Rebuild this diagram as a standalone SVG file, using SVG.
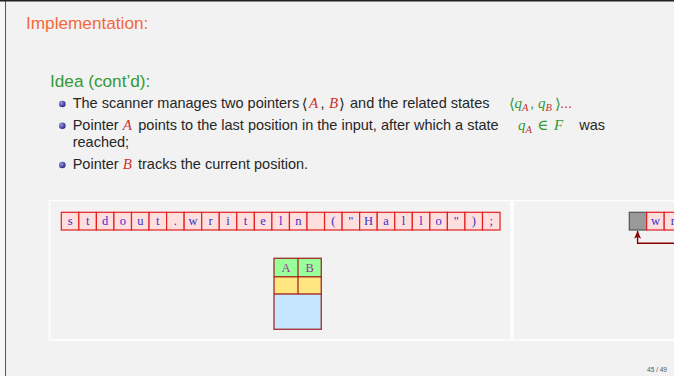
<svg xmlns="http://www.w3.org/2000/svg" width="674" height="376" viewBox="0 0 674 376">
<style>
.t{font-family:"Liberation Sans",Arial,sans-serif;font-size:14.5px;fill:#262626}
.m{font-family:"Liberation Serif","DejaVu Serif",serif;font-style:italic;font-size:15px}
.br{font-family:"DejaVu Serif","Liberation Serif",serif;font-size:15px}
.sub{font-family:"Liberation Serif",serif;font-style:italic;font-size:10.5px;fill:#cc3333}
.red{fill:#cc3333}
.grn{fill:#339933}
.cell{fill:#ffdede;stroke:#e02020;stroke-width:1.2}
.ch{font-family:"Liberation Serif",serif;font-size:12.5px;fill:#3333cc;text-anchor:middle}
.panel{fill:none;stroke:#ffffff;stroke-width:1.5}
.tb{stroke:#a01818;stroke-width:1.4;stroke-opacity:0.85}
</style>
<defs>
<radialGradient id="ball" cx="0.35" cy="0.35" r="0.7">
<stop offset="0" stop-color="#9a9ae8"/>
<stop offset="1" stop-color="#202080"/>
</radialGradient>
<marker id="ah" viewBox="0 0 8 10" refX="8" refY="5" markerWidth="8" markerHeight="10" markerUnits="userSpaceOnUse" orient="auto">
<path d="M0,1.5 L8,5 L0,8.5 L2,5 Z" fill="#8b0000"/>
</marker>
</defs>
<rect width="674" height="376" fill="#f2f2f2"/>
<rect x="0" y="0" width="5" height="376" fill="#f7f7f7"/>
<line x1="5.5" y1="0" x2="5.5" y2="376" stroke="#555" stroke-width="1"/>
<rect x="0" y="0" width="674" height="1.5" fill="#222"/>

<g id="title">
<text x="26" y="29" font-family="Liberation Sans,Arial,sans-serif" font-size="17.2" fill="#f4693a">Implementation:</text>
</g>

<g id="idea">
<text x="50" y="86.7" font-family="Liberation Sans,Arial,sans-serif" font-size="17.2" fill="#339933">Idea (cont’d):</text>
<circle cx="62.3" cy="104" r="3.3" fill="url(#ball)"/>
<circle cx="62.3" cy="125.8" r="3.3" fill="url(#ball)"/>
<circle cx="62.3" cy="165" r="3.3" fill="url(#ball)"/>
<text class="t" x="72.7" y="108.3">The scanner manages two pointers</text>
<text class="br" x="301.7" y="108.8" fill="#262626">⟨</text>
<text class="m red" x="309" y="108.3">A</text>
<text class="t" x="320.5" y="108.3">,</text>
<text class="m red" x="329" y="108.3">B</text>
<text class="br" x="339" y="108.8" fill="#262626">⟩</text>
<text class="t" x="350" y="108.3">and the related states</text>
<text class="br grn" x="509" y="108.8">⟨</text>
<text class="m grn" x="514.5" y="108.3">q</text>
<text class="sub" x="522" y="111">A</text>
<text class="t grn" x="530" y="108.3">,</text>
<text class="m grn" x="538" y="108.3">q</text>
<text class="sub" x="545.5" y="111">B</text>
<text class="br grn" x="555" y="108.8">⟩</text>
<text class="t red" x="560" y="108.3">...</text>

<text class="t" x="72.7" y="130">Pointer</text>
<text class="m red" x="122.7" y="130">A</text>
<text class="t" x="138.3" y="130">points to the last position in the input, after which a state</text>
<text class="m grn" x="518" y="130">q</text>
<text class="sub" x="525.5" y="132.7">A</text>
<text class="m grn" x="537" y="130" font-style="normal">∈</text>
<text class="m grn" x="554" y="130">F</text>
<text class="t" x="579.3" y="130">was</text>
<text class="t" x="72.7" y="147.3">reached;</text>

<text class="t" x="72.7" y="169.3">Pointer</text>
<text class="m red" x="122.7" y="169.3">B</text>
<text class="t" x="138" y="169.3">tracks the current position.</text>
</g>

<g id="panels">
<rect class="panel" x="49.5" y="200.5" width="461.5" height="139.5"/>
<rect class="panel" x="513" y="200.5" width="170" height="139.5"/>
</g>

<g id="tape">
<rect class="cell" x="61.3" y="212.3" width="17.55" height="17.7"/>
<rect class="cell" x="78.85" y="212.3" width="17.55" height="17.7"/>
<rect class="cell" x="96.4" y="212.3" width="17.55" height="17.7"/>
<rect class="cell" x="113.95" y="212.3" width="17.55" height="17.7"/>
<rect class="cell" x="131.5" y="212.3" width="17.55" height="17.7"/>
<rect class="cell" x="149.05" y="212.3" width="17.55" height="17.7"/>
<rect class="cell" x="166.6" y="212.3" width="17.55" height="17.7"/>
<rect class="cell" x="184.15" y="212.3" width="17.55" height="17.7"/>
<rect class="cell" x="201.7" y="212.3" width="17.55" height="17.7"/>
<rect class="cell" x="219.25" y="212.3" width="17.55" height="17.7"/>
<rect class="cell" x="236.8" y="212.3" width="17.55" height="17.7"/>
<rect class="cell" x="254.35" y="212.3" width="17.55" height="17.7"/>
<rect class="cell" x="271.9" y="212.3" width="17.55" height="17.7"/>
<rect class="cell" x="289.45" y="212.3" width="17.55" height="17.7"/>
<rect class="cell" x="307" y="212.3" width="17.55" height="17.7"/>
<rect class="cell" x="324.55" y="212.3" width="17.55" height="17.7"/>
<rect class="cell" x="342.1" y="212.3" width="17.55" height="17.7"/>
<rect class="cell" x="359.65" y="212.3" width="17.55" height="17.7"/>
<rect class="cell" x="377.2" y="212.3" width="17.55" height="17.7"/>
<rect class="cell" x="394.75" y="212.3" width="17.55" height="17.7"/>
<rect class="cell" x="412.3" y="212.3" width="17.55" height="17.7"/>
<rect class="cell" x="429.85" y="212.3" width="17.55" height="17.7"/>
<rect class="cell" x="447.4" y="212.3" width="17.55" height="17.7"/>
<rect class="cell" x="464.95" y="212.3" width="17.55" height="17.7"/>
<rect class="cell" x="482.5" y="212.3" width="17.55" height="17.7"/>
<text class="ch" x="70.1" y="225.2">s</text>
<text class="ch" x="87.65" y="225.2">t</text>
<text class="ch" x="105.2" y="225.2">d</text>
<text class="ch" x="122.75" y="225.2">o</text>
<text class="ch" x="140.3" y="225.2">u</text>
<text class="ch" x="157.85" y="225.2">t</text>
<text class="ch" x="175.4" y="225.2">.</text>
<text class="ch" x="192.95" y="225.2">w</text>
<text class="ch" x="210.5" y="225.2">r</text>
<text class="ch" x="228.05" y="225.2">i</text>
<text class="ch" x="245.6" y="225.2">t</text>
<text class="ch" x="263.15" y="225.2">e</text>
<text class="ch" x="280.7" y="225.2">l</text>
<text class="ch" x="298.25" y="225.2">n</text>
<text class="ch" x="333.35" y="225.2">(</text>
<text class="ch" x="350.9" y="225.2">"</text>
<text class="ch" x="368.45" y="225.2">H</text>
<text class="ch" x="386" y="225.2">a</text>
<text class="ch" x="403.55" y="225.2">l</text>
<text class="ch" x="421.1" y="225.2">l</text>
<text class="ch" x="438.65" y="225.2">o</text>
<text class="ch" x="456.2" y="225.2">"</text>
<text class="ch" x="473.75" y="225.2">)</text>
<text class="ch" x="491.3" y="225.2">;</text>
</g>

<g id="pointers">
<rect x="274" y="258.3" width="47.3" height="18.4" fill="#99ff99"/>
<rect x="274" y="276.7" width="47.3" height="17.3" fill="#ffe680"/>
<rect x="274" y="294" width="47.3" height="35.3" fill="#c6e6ff"/>
<rect class="tb" x="274" y="258.3" width="47.3" height="71" fill="none"/>
<line class="tb" x1="274" y1="276.7" x2="321.3" y2="276.7"/>
<line class="tb" x1="274" y1="294" x2="321.3" y2="294"/>
<line class="tb" x1="298" y1="258.3" x2="298" y2="294"/>
<text x="286" y="271.5" font-family="Liberation Serif,serif" font-size="12.5" fill="#993399" text-anchor="middle">A</text>
<text x="309.7" y="271.5" font-family="Liberation Serif,serif" font-size="12.5" fill="#993399" text-anchor="middle">B</text>
</g>

<g id="tape2">
<rect x="629.3" y="212.3" width="17.4" height="17.7" fill="#999999" stroke="#555" stroke-width="1.2"/>
<rect class="cell" x="646.7" y="212.3" width="17.5" height="17.7"/>
<rect class="cell" x="664.2" y="212.3" width="17.5" height="17.7"/>
<text class="ch" x="655.45" y="225.2">w</text>
<text class="ch" x="672.95" y="225.2">r</text>
</g>

<g id="connectors">
<path d="M680,243.3 H637.6 V230.8" fill="none" stroke="#8b0000" stroke-width="1.4" marker-end="url(#ah)"/>
</g>

<g id="footer">
<text x="667" y="372" font-family="Liberation Sans,Arial,sans-serif" font-size="6.5" fill="#555" text-anchor="end">45 / 49</text>
</g>
</svg>
